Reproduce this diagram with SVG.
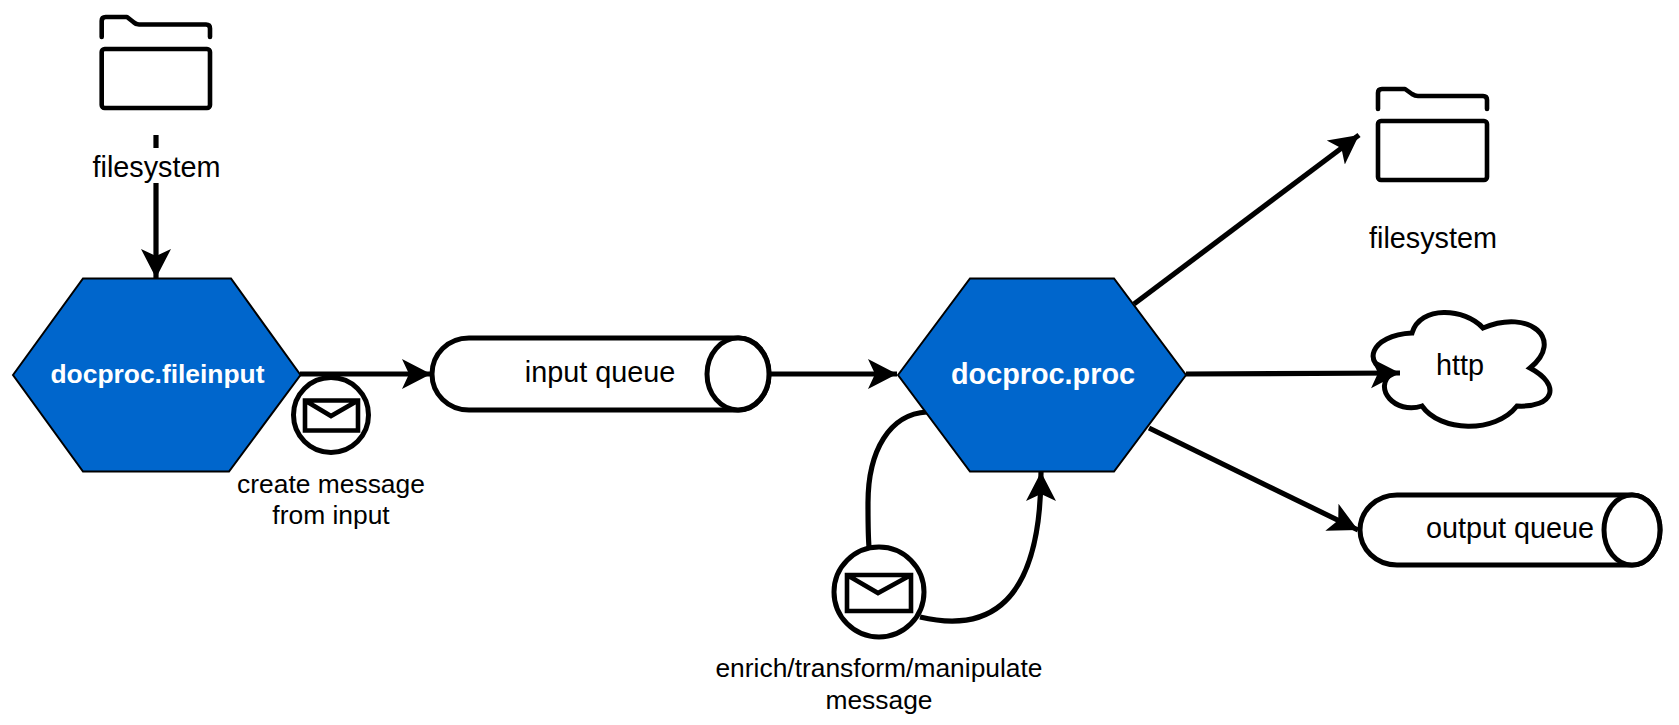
<svg xmlns="http://www.w3.org/2000/svg" width="1679" height="725" viewBox="0 0 1679 725">
<style>
text{font-family:"Liberation Sans",Arial,sans-serif;font-size:28.8px;fill:#000;text-anchor:middle}
.s{font-size:26.4px}
.t{font-weight:bold;fill:#fff}
.hex{fill:#0066cc;stroke:#000;stroke-width:2}
.ol{fill:#fff;stroke:#000;stroke-width:5}
.ln{fill:none;stroke:#000;stroke-width:4.6;stroke-linecap:round;stroke-linejoin:round}
.env{fill:none;stroke:#000;stroke-width:4.6;stroke-linejoin:miter}
.c{fill:none;stroke:#000;stroke-width:5.2}
</style>
<defs>
<marker id="a" markerUnits="userSpaceOnUse" markerWidth="32" markerHeight="34" refX="29" refY="16" orient="auto"><path d="M0 1L29 16L0 31L7 16Z" fill="#000"/></marker>
</defs>
<g id="connectors">
<path class="c" d="M156 135V148"/>
<path class="c" d="M156 183V278" marker-end="url(#a)"/>
<path class="c" d="M300 374H431" marker-end="url(#a)"/>
<path class="c" d="M769 374H897" marker-end="url(#a)"/>
<path class="c" d="M1134 304L1359 135" marker-end="url(#a)"/>
<path class="c" d="M1149 428L1358 530" marker-end="url(#a)"/>
<path class="c" d="M927 412C890 414 868 450 868 503C868 520 868 535 869 547"/>
<path class="c" d="M920 617C975 630 1041 620 1041 472" marker-end="url(#a)"/>
</g>
<g id="folder1"><path class="ln" d="M101.700 37V21Q101.700 17 105.700 17H127L134 22.500Q136 24.500 139 24.500H206Q210 24.500 210 28.500V37"/><rect class="ln" x="101.700" y="49" width="108.300" height="59" rx="3"/></g>
<text x="156.500" y="177">filesystem</text>
<g id="fileinput"><path class="hex" d="M13 375L83 278.500H231L300.500 375L229 471.500H83Z"/><text class="t s" x="157.500" y="383">docproc.fileinput</text></g>
<g id="msg1"><circle class="ol" cx="331" cy="415" r="37.500"/><path class="env" d="M305 400.500H358V430.500H305Z M305 400.500L331 416L358 400.500"/></g>
<text class="s" x="331" y="493">create message</text><text class="s" x="331" y="524">from input</text>
<g id="inqueue"><path class="ol" d="M469 338H739C756 338 769 354 769 374C769 394 756 410 739 410H469C448 410 432 394 432 374C432 354 448 338 469 338Z"/><ellipse class="ol" cx="738" cy="374" rx="31" ry="36"/><text x="600" y="382">input queue</text></g>
<g id="proc"><path class="hex" d="M898 375L970 278.500H1114L1186 375L1114 471.500H970Z"/><text class="t" x="1043" y="384">docproc.proc</text></g>
<g id="msg2"><circle class="ol" cx="879" cy="592" r="45"/><path class="env" d="M847 575H911V611H847Z M847 575L878 593L911 575"/></g>
<text class="s" x="879" y="677">enrich/transform/manipulate</text><text class="s" x="879" y="709">message</text>
<g id="folder2"><path class="ln" d="M1378 109V93Q1378 89 1382 89H1405L1412 94Q1415 96 1418 96H1483Q1487 96 1487 100V109"/><rect class="ln" x="1378" y="121" width="109" height="59" rx="3"/></g>
<text x="1433" y="248">filesystem</text>
<g id="http"><path class="ol" d="M1412 333C1370 335 1360 365 1392 373C1372 388 1395 415 1422 406C1440 432 1495 434 1517 406C1554 408 1562 385 1530 368C1565 340 1530 308 1483 328C1465 308 1420 305 1412 333Z"/><text x="1460" y="375">http</text></g>
<path class="c" d="M1186 374L1400 373" marker-end="url(#a)"/>
<g id="outqueue"><path class="ol" d="M1397 495H1632C1648 495 1660 511 1660 530C1660 549 1648 565 1632 565H1397C1376 565 1360 549 1360 530C1360 511 1376 495 1397 495Z"/><ellipse class="ol" cx="1632" cy="530" rx="28" ry="35"/><text x="1510" y="538">output queue</text></g>
</svg>
